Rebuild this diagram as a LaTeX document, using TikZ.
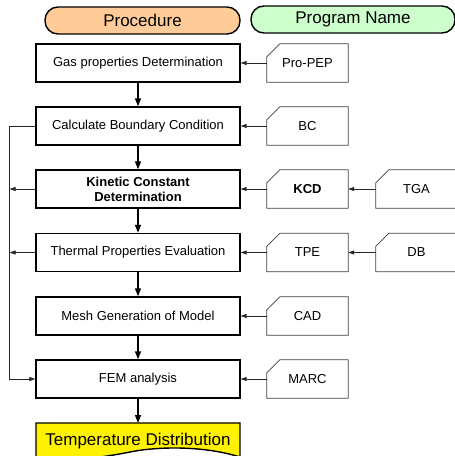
\documentclass[tikz,border=0pt]{standalone}
\usepackage{fontspec}
\setmainfont{Liberation Sans}
\usetikzlibrary{arrows.meta,calc}
\begin{document}
\begin{tikzpicture}[x=1pt,y=-1pt,
  procbox/.style={draw=black,line width=1.4pt,minimum width=204pt,minimum height=38pt,inner sep=0pt,font=\fontsize{13}{15}\selectfont,align=center},
  card/.style={minimum width=81pt,minimum height=38pt,inner sep=0pt,font=\fontsize{13}{15}\selectfont},
  cardline/.style={draw=black!75,line width=0.8pt},
  pill/.style={draw=black,line width=1.4pt,rounded corners=13pt,minimum height=27pt,inner sep=0pt,font=\fontsize{17}{20}\selectfont},
  varrow/.style={line width=1.4pt,-{Triangle[length=8pt,width=6pt]}},
  harrow/.style={line width=0.8pt,draw=black!85,-{Triangle[length=6pt,width=4pt]}}
]
\clip (0,0) rectangle (455,456);
\fill[white] (0,0) rectangle (455,456);

% header pills
\node[pill,fill={rgb,255:red,255;green,204;blue,153},minimum width=195pt] (hp) at (142.5,20.5) {Procedure};
\node[pill,fill={rgb,255:red,204;green,255;blue,204},minimum width=204pt] (hn) at (353,19.5) {Program Name};

% procedure boxes
\node[procbox] (b1) at (138,63) {Gas properties Determination};
\node[procbox] (b2) at (138,126) {Calculate Boundary Condition};
\node[procbox] (b3) at (138,189) {\textbf{Kinetic Constant}\\\textbf{Determination}};
\node[procbox] (b4) at (138,252.5) {Thermal Properties Evaluation};
\node[procbox] (b5) at (138,316) {Mesh Generation of Model};
\node[procbox] (b6) at (138,379) {FEM analysis};

% result (document shape)
\fill[yellow] (36,423) -- (240,423) -- (240,457) .. controls (205,446) and (160,446) .. (130,452) .. controls (95,459) and (60,462) .. (36,460) -- cycle;
\draw[line width=1.4pt] (36,460) -- (36,423) -- (240,423) -- (240,457) .. controls (205,446) and (160,446) .. (130,452) .. controls (95,459) and (60,462) .. (36,460);
\node[font=\fontsize{17}{20}\selectfont,inner sep=0pt,minimum width=204pt,minimum height=30pt] (td) at (138,441) {Temperature Distribution};
\coordinate (tdtop) at (138,423);

% program cards
\node[card] (pp) at (307.5,63) {Pro-PEP};
\node[card] (bc) at (307.5,126) {BC};
\node[card] (kcd) at (307.5,189) {\textbf{KCD}};
\node[card] (tga) at (416.5,189) {TGA};
\node[card] (tpe) at (307.5,252.5) {TPE};
\node[card] (db) at (416.5,252.5) {DB};
\node[card] (cad) at (307.5,316) {CAD};
\node[card] (marc) at (307.5,379) {MARC};
\foreach \n in {pp,bc,kcd,tga,tpe,db,cad,marc}
  \draw[cardline] ($(\n.north west)+(13pt,0pt)$) -- (\n.north east) -- (\n.south east) -- (\n.south west) -- ($(\n.north west)+(0pt,-13pt)$) -- cycle;

% vertical flow
\draw[varrow] (b1) -- (b2);
\draw[varrow] (b2) -- (b3);
\draw[varrow] (b3) -- (b4);
\draw[varrow] (b4) -- (b5);
\draw[varrow] (b5) -- (b6);
\draw[varrow] (b6) -- (tdtop);

% program arrows
\draw[harrow] (pp.west) -- (b1.east);
\draw[harrow] (bc.west) -- (b2.east);
\draw[harrow] (kcd.west) -- (b3.east);
\draw[harrow] (tga.west) -- (kcd.east);
\draw[harrow] (tpe.west) -- (b4.east);
\draw[harrow] (db.west) -- (tpe.east);
\draw[harrow] (cad.west) -- (b5.east);
\draw[harrow] (marc.west) -- (b6.east);

% left feedback line
\coordinate (L) at (9.5,0);
\draw[harrow] (b2.west) -- (b2.west -| L) |- (b6.west);
\draw[harrow] (b3.west) -- (b3.west -| L);
\draw[harrow] (b4.west) -- (b4.west -| L);
\end{tikzpicture}
\end{document}
